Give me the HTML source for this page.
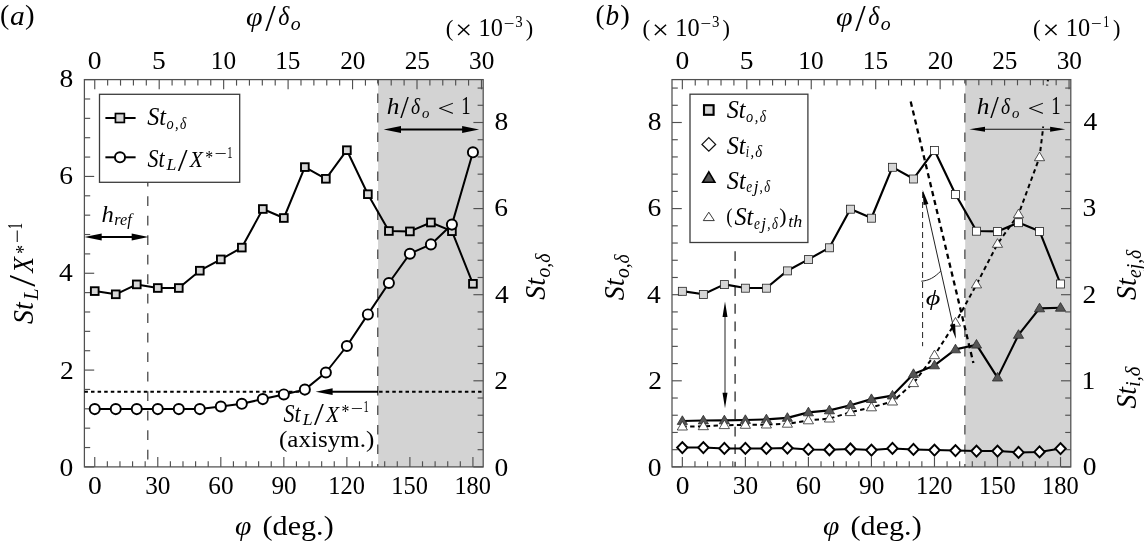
<!DOCTYPE html>
<html lang="en"><head><meta charset="utf-8"><title>Figure</title>
<style>html,body{margin:0;padding:0;background:#fff;overflow:hidden}svg{display:block}text{font-family:'Liberation Serif', 'DejaVu Serif', serif;fill:#000;stroke:#000;stroke-width:0;stroke-linejoin:round}</style></head><body>
<svg width="1144" height="542" viewBox="0 0 1144 542">
<rect width="1144" height="542" fill="#fff"/>
<rect x="378.08" y="79.60" width="105.12" height="387.30" fill="#d3d3d3"/>
<line x1="147.80" y1="182.30" x2="147.80" y2="466.90" stroke="#3a3a3a" stroke-width="1.2" stroke-dasharray="9.6 9.9" stroke-dashoffset="5.5"/>
<line x1="377.78" y1="79.60" x2="377.78" y2="466.90" stroke="#3a3a3a" stroke-width="1.2" stroke-dasharray="9.6 9.9" stroke-dashoffset="5.7"/>
<line x1="94.75" y1="466.90" x2="94.75" y2="457.10" stroke="#505050" stroke-width="1.15" />
<line x1="107.36" y1="466.90" x2="107.36" y2="461.30" stroke="#505050" stroke-width="1.15" />
<line x1="119.96" y1="466.90" x2="119.96" y2="461.30" stroke="#505050" stroke-width="1.15" />
<line x1="132.57" y1="466.90" x2="132.57" y2="461.30" stroke="#505050" stroke-width="1.15" />
<line x1="145.17" y1="466.90" x2="145.17" y2="461.30" stroke="#505050" stroke-width="1.15" />
<line x1="157.78" y1="466.90" x2="157.78" y2="457.10" stroke="#505050" stroke-width="1.15" />
<line x1="170.39" y1="466.90" x2="170.39" y2="461.30" stroke="#505050" stroke-width="1.15" />
<line x1="182.99" y1="466.90" x2="182.99" y2="461.30" stroke="#505050" stroke-width="1.15" />
<line x1="195.60" y1="466.90" x2="195.60" y2="461.30" stroke="#505050" stroke-width="1.15" />
<line x1="208.20" y1="466.90" x2="208.20" y2="461.30" stroke="#505050" stroke-width="1.15" />
<line x1="220.81" y1="466.90" x2="220.81" y2="457.10" stroke="#505050" stroke-width="1.15" />
<line x1="233.42" y1="466.90" x2="233.42" y2="461.30" stroke="#505050" stroke-width="1.15" />
<line x1="246.02" y1="466.90" x2="246.02" y2="461.30" stroke="#505050" stroke-width="1.15" />
<line x1="258.63" y1="466.90" x2="258.63" y2="461.30" stroke="#505050" stroke-width="1.15" />
<line x1="271.23" y1="466.90" x2="271.23" y2="461.30" stroke="#505050" stroke-width="1.15" />
<line x1="283.84" y1="466.90" x2="283.84" y2="457.10" stroke="#505050" stroke-width="1.15" />
<line x1="296.45" y1="466.90" x2="296.45" y2="461.30" stroke="#505050" stroke-width="1.15" />
<line x1="309.05" y1="466.90" x2="309.05" y2="461.30" stroke="#505050" stroke-width="1.15" />
<line x1="321.66" y1="466.90" x2="321.66" y2="461.30" stroke="#505050" stroke-width="1.15" />
<line x1="334.26" y1="466.90" x2="334.26" y2="461.30" stroke="#505050" stroke-width="1.15" />
<line x1="346.87" y1="466.90" x2="346.87" y2="457.10" stroke="#505050" stroke-width="1.15" />
<line x1="359.48" y1="466.90" x2="359.48" y2="461.30" stroke="#505050" stroke-width="1.15" />
<line x1="372.08" y1="466.90" x2="372.08" y2="461.30" stroke="#505050" stroke-width="1.15" />
<line x1="384.69" y1="466.90" x2="384.69" y2="461.30" stroke="#505050" stroke-width="1.15" />
<line x1="397.29" y1="466.90" x2="397.29" y2="461.30" stroke="#505050" stroke-width="1.15" />
<line x1="409.90" y1="466.90" x2="409.90" y2="457.10" stroke="#505050" stroke-width="1.15" />
<line x1="422.51" y1="466.90" x2="422.51" y2="461.30" stroke="#505050" stroke-width="1.15" />
<line x1="435.11" y1="466.90" x2="435.11" y2="461.30" stroke="#505050" stroke-width="1.15" />
<line x1="447.72" y1="466.90" x2="447.72" y2="461.30" stroke="#505050" stroke-width="1.15" />
<line x1="460.32" y1="466.90" x2="460.32" y2="461.30" stroke="#505050" stroke-width="1.15" />
<line x1="472.93" y1="466.90" x2="472.93" y2="457.10" stroke="#505050" stroke-width="1.15" />
<line x1="94.75" y1="79.60" x2="94.75" y2="89.30" stroke="#505050" stroke-width="1.15" />
<line x1="107.64" y1="79.60" x2="107.64" y2="85.60" stroke="#505050" stroke-width="1.15" />
<line x1="120.53" y1="79.60" x2="120.53" y2="85.60" stroke="#505050" stroke-width="1.15" />
<line x1="133.42" y1="79.60" x2="133.42" y2="85.60" stroke="#505050" stroke-width="1.15" />
<line x1="146.31" y1="79.60" x2="146.31" y2="85.60" stroke="#505050" stroke-width="1.15" />
<line x1="159.20" y1="79.60" x2="159.20" y2="89.30" stroke="#505050" stroke-width="1.15" />
<line x1="172.09" y1="79.60" x2="172.09" y2="85.60" stroke="#505050" stroke-width="1.15" />
<line x1="184.98" y1="79.60" x2="184.98" y2="85.60" stroke="#505050" stroke-width="1.15" />
<line x1="197.87" y1="79.60" x2="197.87" y2="85.60" stroke="#505050" stroke-width="1.15" />
<line x1="210.76" y1="79.60" x2="210.76" y2="85.60" stroke="#505050" stroke-width="1.15" />
<line x1="223.65" y1="79.60" x2="223.65" y2="89.30" stroke="#505050" stroke-width="1.15" />
<line x1="236.54" y1="79.60" x2="236.54" y2="85.60" stroke="#505050" stroke-width="1.15" />
<line x1="249.43" y1="79.60" x2="249.43" y2="85.60" stroke="#505050" stroke-width="1.15" />
<line x1="262.32" y1="79.60" x2="262.32" y2="85.60" stroke="#505050" stroke-width="1.15" />
<line x1="275.21" y1="79.60" x2="275.21" y2="85.60" stroke="#505050" stroke-width="1.15" />
<line x1="288.10" y1="79.60" x2="288.10" y2="89.30" stroke="#505050" stroke-width="1.15" />
<line x1="300.99" y1="79.60" x2="300.99" y2="85.60" stroke="#505050" stroke-width="1.15" />
<line x1="313.88" y1="79.60" x2="313.88" y2="85.60" stroke="#505050" stroke-width="1.15" />
<line x1="326.77" y1="79.60" x2="326.77" y2="85.60" stroke="#505050" stroke-width="1.15" />
<line x1="339.66" y1="79.60" x2="339.66" y2="85.60" stroke="#505050" stroke-width="1.15" />
<line x1="352.55" y1="79.60" x2="352.55" y2="89.30" stroke="#505050" stroke-width="1.15" />
<line x1="365.44" y1="79.60" x2="365.44" y2="85.60" stroke="#505050" stroke-width="1.15" />
<line x1="378.33" y1="79.60" x2="378.33" y2="85.60" stroke="#505050" stroke-width="1.15" />
<line x1="391.22" y1="79.60" x2="391.22" y2="85.60" stroke="#505050" stroke-width="1.15" />
<line x1="404.11" y1="79.60" x2="404.11" y2="85.60" stroke="#505050" stroke-width="1.15" />
<line x1="417.00" y1="79.60" x2="417.00" y2="89.30" stroke="#505050" stroke-width="1.15" />
<line x1="429.89" y1="79.60" x2="429.89" y2="85.60" stroke="#505050" stroke-width="1.15" />
<line x1="442.78" y1="79.60" x2="442.78" y2="85.60" stroke="#505050" stroke-width="1.15" />
<line x1="455.67" y1="79.60" x2="455.67" y2="85.60" stroke="#505050" stroke-width="1.15" />
<line x1="468.56" y1="79.60" x2="468.56" y2="85.60" stroke="#505050" stroke-width="1.15" />
<line x1="481.45" y1="79.60" x2="481.45" y2="89.30" stroke="#505050" stroke-width="1.15" />
<line x1="84.40" y1="466.90" x2="94.20" y2="466.90" stroke="#505050" stroke-width="1.15" />
<line x1="84.40" y1="447.54" x2="90.20" y2="447.54" stroke="#505050" stroke-width="1.15" />
<line x1="84.40" y1="428.17" x2="90.20" y2="428.17" stroke="#505050" stroke-width="1.15" />
<line x1="84.40" y1="408.81" x2="90.20" y2="408.81" stroke="#505050" stroke-width="1.15" />
<line x1="84.40" y1="389.44" x2="90.20" y2="389.44" stroke="#505050" stroke-width="1.15" />
<line x1="84.40" y1="370.08" x2="94.20" y2="370.08" stroke="#505050" stroke-width="1.15" />
<line x1="84.40" y1="350.72" x2="90.20" y2="350.72" stroke="#505050" stroke-width="1.15" />
<line x1="84.40" y1="331.35" x2="90.20" y2="331.35" stroke="#505050" stroke-width="1.15" />
<line x1="84.40" y1="311.99" x2="90.20" y2="311.99" stroke="#505050" stroke-width="1.15" />
<line x1="84.40" y1="292.62" x2="90.20" y2="292.62" stroke="#505050" stroke-width="1.15" />
<line x1="84.40" y1="273.26" x2="94.20" y2="273.26" stroke="#505050" stroke-width="1.15" />
<line x1="84.40" y1="253.90" x2="90.20" y2="253.90" stroke="#505050" stroke-width="1.15" />
<line x1="84.40" y1="234.53" x2="90.20" y2="234.53" stroke="#505050" stroke-width="1.15" />
<line x1="84.40" y1="215.17" x2="90.20" y2="215.17" stroke="#505050" stroke-width="1.15" />
<line x1="84.40" y1="195.80" x2="90.20" y2="195.80" stroke="#505050" stroke-width="1.15" />
<line x1="84.40" y1="176.44" x2="94.20" y2="176.44" stroke="#505050" stroke-width="1.15" />
<line x1="84.40" y1="157.08" x2="90.20" y2="157.08" stroke="#505050" stroke-width="1.15" />
<line x1="84.40" y1="137.71" x2="90.20" y2="137.71" stroke="#505050" stroke-width="1.15" />
<line x1="84.40" y1="118.35" x2="90.20" y2="118.35" stroke="#505050" stroke-width="1.15" />
<line x1="84.40" y1="98.98" x2="90.20" y2="98.98" stroke="#505050" stroke-width="1.15" />
<line x1="84.40" y1="79.62" x2="94.20" y2="79.62" stroke="#505050" stroke-width="1.15" />
<line x1="483.20" y1="466.90" x2="473.40" y2="466.90" stroke="#505050" stroke-width="1.15" />
<line x1="483.20" y1="449.68" x2="477.60" y2="449.68" stroke="#505050" stroke-width="1.15" />
<line x1="483.20" y1="432.46" x2="477.60" y2="432.46" stroke="#505050" stroke-width="1.15" />
<line x1="483.20" y1="415.24" x2="477.60" y2="415.24" stroke="#505050" stroke-width="1.15" />
<line x1="483.20" y1="398.02" x2="477.60" y2="398.02" stroke="#505050" stroke-width="1.15" />
<line x1="483.20" y1="380.80" x2="473.40" y2="380.80" stroke="#505050" stroke-width="1.15" />
<line x1="483.20" y1="363.58" x2="477.60" y2="363.58" stroke="#505050" stroke-width="1.15" />
<line x1="483.20" y1="346.36" x2="477.60" y2="346.36" stroke="#505050" stroke-width="1.15" />
<line x1="483.20" y1="329.14" x2="477.60" y2="329.14" stroke="#505050" stroke-width="1.15" />
<line x1="483.20" y1="311.92" x2="477.60" y2="311.92" stroke="#505050" stroke-width="1.15" />
<line x1="483.20" y1="294.70" x2="473.40" y2="294.70" stroke="#505050" stroke-width="1.15" />
<line x1="483.20" y1="277.48" x2="477.60" y2="277.48" stroke="#505050" stroke-width="1.15" />
<line x1="483.20" y1="260.26" x2="477.60" y2="260.26" stroke="#505050" stroke-width="1.15" />
<line x1="483.20" y1="243.04" x2="477.60" y2="243.04" stroke="#505050" stroke-width="1.15" />
<line x1="483.20" y1="225.82" x2="477.60" y2="225.82" stroke="#505050" stroke-width="1.15" />
<line x1="483.20" y1="208.60" x2="473.40" y2="208.60" stroke="#505050" stroke-width="1.15" />
<line x1="483.20" y1="191.38" x2="477.60" y2="191.38" stroke="#505050" stroke-width="1.15" />
<line x1="483.20" y1="174.16" x2="477.60" y2="174.16" stroke="#505050" stroke-width="1.15" />
<line x1="483.20" y1="156.94" x2="477.60" y2="156.94" stroke="#505050" stroke-width="1.15" />
<line x1="483.20" y1="139.72" x2="477.60" y2="139.72" stroke="#505050" stroke-width="1.15" />
<line x1="483.20" y1="122.50" x2="473.40" y2="122.50" stroke="#505050" stroke-width="1.15" />
<line x1="483.20" y1="105.28" x2="477.60" y2="105.28" stroke="#505050" stroke-width="1.15" />
<line x1="483.20" y1="88.06" x2="477.60" y2="88.06" stroke="#505050" stroke-width="1.15" />
<rect x="84.40" y="79.60" width="398.80" height="387.30" fill="none" stroke="#505050" stroke-width="1.25"/>
<line x1="84.40" y1="391.70" x2="300.85" y2="391.70" stroke="#000" stroke-width="2" stroke-dasharray="3.5 3.1"/>
<line x1="379.08" y1="391.70" x2="483.20" y2="391.70" stroke="#000" stroke-width="2" stroke-dasharray="3.5 3.1"/>
<line x1="378.08" y1="391.70" x2="330.00" y2="391.70" stroke="#000" stroke-width="2" />
<polygon points="315.60,391.70 332.60,388.30 332.60,395.10" fill="#000"/>
<polyline points="94.75,291.10 115.76,294.30 136.77,284.40 157.78,288.00 178.79,288.00 199.80,270.70 220.81,259.40 241.82,247.60 262.83,209.00 283.84,218.00 304.85,167.10 325.86,178.80 346.87,150.20 367.88,194.20 388.89,231.00 409.90,231.40 430.91,222.50 451.92,231.20 472.93,283.80" fill="none" stroke="#000" stroke-width="2.0" stroke-linejoin="round" />
<rect x="90.90" y="287.25" width="7.7" height="7.7" fill="#d6d6d6" stroke="#000" stroke-width="1.9"/>
<rect x="111.91" y="290.45" width="7.7" height="7.7" fill="#d6d6d6" stroke="#000" stroke-width="1.9"/>
<rect x="132.92" y="280.55" width="7.7" height="7.7" fill="#d6d6d6" stroke="#000" stroke-width="1.9"/>
<rect x="153.93" y="284.15" width="7.7" height="7.7" fill="#d6d6d6" stroke="#000" stroke-width="1.9"/>
<rect x="174.94" y="284.15" width="7.7" height="7.7" fill="#d6d6d6" stroke="#000" stroke-width="1.9"/>
<rect x="195.95" y="266.85" width="7.7" height="7.7" fill="#d6d6d6" stroke="#000" stroke-width="1.9"/>
<rect x="216.96" y="255.55" width="7.7" height="7.7" fill="#d6d6d6" stroke="#000" stroke-width="1.9"/>
<rect x="237.97" y="243.75" width="7.7" height="7.7" fill="#d6d6d6" stroke="#000" stroke-width="1.9"/>
<rect x="258.98" y="205.15" width="7.7" height="7.7" fill="#d6d6d6" stroke="#000" stroke-width="1.9"/>
<rect x="279.99" y="214.15" width="7.7" height="7.7" fill="#d6d6d6" stroke="#000" stroke-width="1.9"/>
<rect x="301.00" y="163.25" width="7.7" height="7.7" fill="#d6d6d6" stroke="#000" stroke-width="1.9"/>
<rect x="322.01" y="174.95" width="7.7" height="7.7" fill="#d6d6d6" stroke="#000" stroke-width="1.9"/>
<rect x="343.02" y="146.35" width="7.7" height="7.7" fill="#d6d6d6" stroke="#000" stroke-width="1.9"/>
<rect x="364.03" y="190.35" width="7.7" height="7.7" fill="#d6d6d6" stroke="#000" stroke-width="1.9"/>
<rect x="385.04" y="227.15" width="7.7" height="7.7" fill="#d6d6d6" stroke="#000" stroke-width="1.9"/>
<rect x="406.05" y="227.55" width="7.7" height="7.7" fill="#d6d6d6" stroke="#000" stroke-width="1.9"/>
<rect x="427.06" y="218.65" width="7.7" height="7.7" fill="#d6d6d6" stroke="#000" stroke-width="1.9"/>
<rect x="448.07" y="227.35" width="7.7" height="7.7" fill="#d6d6d6" stroke="#000" stroke-width="1.9"/>
<rect x="469.08" y="279.95" width="7.7" height="7.7" fill="#d6d6d6" stroke="#000" stroke-width="1.9"/>
<polyline points="94.75,409.10 115.76,409.10 136.77,409.10 157.78,409.10 178.79,409.10 199.80,409.10 220.81,406.50 241.82,403.80 262.83,399.10 283.84,394.40 304.85,389.60 325.86,372.50 346.87,346.00 367.88,314.40 388.89,283.00 409.90,253.70 430.91,244.40 451.92,224.60 472.93,152.30" fill="none" stroke="#000" stroke-width="2.0" stroke-linejoin="round" />
<circle cx="94.75" cy="409.10" r="5.05" fill="#fff" stroke="#000" stroke-width="1.95"/>
<circle cx="115.76" cy="409.10" r="5.05" fill="#fff" stroke="#000" stroke-width="1.95"/>
<circle cx="136.77" cy="409.10" r="5.05" fill="#fff" stroke="#000" stroke-width="1.95"/>
<circle cx="157.78" cy="409.10" r="5.05" fill="#fff" stroke="#000" stroke-width="1.95"/>
<circle cx="178.79" cy="409.10" r="5.05" fill="#fff" stroke="#000" stroke-width="1.95"/>
<circle cx="199.80" cy="409.10" r="5.05" fill="#fff" stroke="#000" stroke-width="1.95"/>
<circle cx="220.81" cy="406.50" r="5.05" fill="#fff" stroke="#000" stroke-width="1.95"/>
<circle cx="241.82" cy="403.80" r="5.05" fill="#fff" stroke="#000" stroke-width="1.95"/>
<circle cx="262.83" cy="399.10" r="5.05" fill="#fff" stroke="#000" stroke-width="1.95"/>
<circle cx="283.84" cy="394.40" r="5.05" fill="#fff" stroke="#000" stroke-width="1.95"/>
<circle cx="304.85" cy="389.60" r="5.05" fill="#fff" stroke="#000" stroke-width="1.95"/>
<circle cx="325.86" cy="372.50" r="5.05" fill="#fff" stroke="#000" stroke-width="1.95"/>
<circle cx="346.87" cy="346.00" r="5.05" fill="#fff" stroke="#000" stroke-width="1.95"/>
<circle cx="367.88" cy="314.40" r="5.05" fill="#fff" stroke="#000" stroke-width="1.95"/>
<circle cx="388.89" cy="283.00" r="5.05" fill="#fff" stroke="#000" stroke-width="1.95"/>
<circle cx="409.90" cy="253.70" r="5.05" fill="#fff" stroke="#000" stroke-width="1.95"/>
<circle cx="430.91" cy="244.40" r="5.05" fill="#fff" stroke="#000" stroke-width="1.95"/>
<circle cx="451.92" cy="224.60" r="5.05" fill="#fff" stroke="#000" stroke-width="1.95"/>
<circle cx="472.93" cy="152.30" r="5.05" fill="#fff" stroke="#000" stroke-width="1.95"/>
<line x1="92.40" y1="237.00" x2="139.80" y2="237.00" stroke="#000" stroke-width="2" />
<polygon points="84.40,237.00 101.70,233.40 101.70,240.60" fill="#000"/>
<polygon points="148.50,237.00 131.70,240.60 131.70,233.40" fill="#000"/>
<line x1="392.00" y1="129.40" x2="472.00" y2="129.40" stroke="#000" stroke-width="2" />
<polygon points="383.70,129.40 401.00,125.90 401.00,132.90" fill="#000"/>
<polygon points="479.10,129.40 462.10,132.90 462.10,125.90" fill="#000"/>
<text transform="translate(386.64,114.10) scale(1.069,1)" font-size="23.71" font-style="italic"  stroke-width="0.2">h</text>
<text transform="translate(400.30,118.36) scale(0.953,1)" font-size="32.24" >/</text>
<text transform="translate(411.01,114.10) scale(0.832,1)" font-size="23.52" font-style="italic"  stroke-width="0.2">δ</text>
<text transform="translate(422.00,117.85)" font-size="14.79" font-style="italic"  stroke-width="0.4">o</text>
<text transform="translate(437.61,116.19) scale(1.281,1)" font-size="23.27" >&lt;</text>
<text transform="translate(461.31,114.10) scale(0.763,1)" font-size="24.39" >1</text>
<rect x="99.5" y="94.3" width="140.2" height="88" fill="#fff" stroke="#3c3c3c" stroke-width="1.3"/>
<line x1="105.40" y1="118.00" x2="135.60" y2="118.00" stroke="#000" stroke-width="2" />
<rect x="115.45" y="113.55" width="8.9" height="8.9" fill="#d6d6d6" stroke="#000" stroke-width="1.7"/>
<line x1="105.40" y1="157.30" x2="135.60" y2="157.30" stroke="#000" stroke-width="2" />
<circle cx="120.00" cy="157.30" r="5.05" fill="#fff" stroke="#000" stroke-width="1.95"/>
<text transform="translate(147.16,125.00) scale(0.984,1)" font-size="24.56" font-style="italic"  stroke-width="0.2">St</text>
<text transform="translate(166.41,128.60) scale(0.886,1)" font-size="16.20" font-style="italic"  stroke-width="0.4">o</text>
<text transform="translate(175.07,128.60) scale(0.887,1)" font-size="16.20" font-style="italic"  stroke-width="0.4">,</text>
<text transform="translate(180.03,128.60) scale(0.832,1)" font-size="16.20" font-style="italic"  stroke-width="0.4">δ</text>
<text transform="translate(147.38,166.90) scale(0.908,1)" font-size="24.26" font-style="italic"  stroke-width="0.2">St</text>
<text transform="translate(166.55,170.20) scale(1.068,1)" font-size="16.60" font-style="italic"  stroke-width="0.4">L</text>
<text transform="translate(177.80,170.86) scale(1.102,1)" font-size="32.09" >/</text>
<text transform="translate(189.76,166.90) scale(0.919,1)" font-size="23.48" font-style="italic"  stroke-width="0.2">X</text>
<text transform="translate(205.37,163.79) scale(0.881,1)" font-size="17.84"  stroke-width="0.4">*</text>
<text transform="translate(214.53,159.30) scale(1.250,1)" font-size="17.50"  stroke-width="0.4">−</text>
<text transform="translate(227.36,157.80) scale(0.663,1)" font-size="15.91"  stroke-width="0.4">1</text>
<text transform="translate(0.09,23.65) scale(1.026,1)" font-size="27.07" >(</text>
<text transform="translate(10.01,24.52) scale(1.043,1)" font-size="28.33" font-style="italic"  stroke-width="0.2">a</text>
<text transform="translate(24.93,23.65) scale(1.066,1)" font-size="27.07" >)</text>
<text transform="translate(246.10,25.57) scale(1.062,1)" font-size="28.24" font-style="italic"  stroke-width="0.2">φ</text>
<text transform="translate(265.30,30.75) scale(0.997,1)" font-size="37.61" >/</text>
<text transform="translate(278.22,25.43) scale(0.875,1)" font-size="27.32" font-style="italic"  stroke-width="0.2">δ</text>
<text transform="translate(290.80,30.41) scale(1.067,1)" font-size="18.54" font-style="italic"  stroke-width="0.4">o</text>
<text transform="translate(445.68,35.51) scale(0.974,1)" font-size="23.59" >(</text>
<text transform="translate(455.20,39.10) scale(1.125,1)" font-size="26.67" >×</text>
<text transform="translate(478.55,35.90) scale(0.981,1)" font-size="24.85" >10</text>
<text transform="translate(503.74,29.00) scale(1.083,1)" font-size="17.50"  stroke-width="0.4">−</text>
<text transform="translate(515.30,26.87) scale(0.904,1)" font-size="16.47"  stroke-width="0.4">3</text>
<text transform="translate(525.73,35.51) scale(0.946,1)" font-size="23.59" >)</text>
<text transform="translate(87.87,68.50) scale(1.110,1)" font-size="24.80" >0</text>
<text transform="translate(152.04,68.50) scale(1.110,1)" font-size="24.80" >5</text>
<text transform="translate(210.77,68.50) scale(1.020,1)" font-size="24.80" >10</text>
<text transform="translate(275.22,68.50) scale(1.020,1)" font-size="24.80" >15</text>
<text transform="translate(340.18,68.50) scale(1.020,1)" font-size="24.80" >20</text>
<text transform="translate(404.63,68.50) scale(1.020,1)" font-size="24.80" >25</text>
<text transform="translate(469.08,68.50) scale(1.020,1)" font-size="24.80" >30</text>
<text transform="translate(88.07,494.40) scale(1.110,1)" font-size="24.80" >0</text>
<text transform="translate(145.21,494.40) scale(1.020,1)" font-size="24.80" >30</text>
<text transform="translate(208.24,494.40) scale(1.020,1)" font-size="24.80" >60</text>
<text transform="translate(271.39,494.40) scale(1.020,1)" font-size="24.80" >90</text>
<text transform="translate(328.34,494.40) scale(0.985,1)" font-size="24.80" >120</text>
<text transform="translate(391.37,494.40) scale(0.985,1)" font-size="24.80" >150</text>
<text transform="translate(454.40,494.40) scale(0.985,1)" font-size="24.80" >180</text>
<text transform="translate(59.56,475.80) scale(1.110,1)" font-size="24.80" >0</text>
<text transform="translate(60.11,378.58) scale(1.110,1)" font-size="24.80" >2</text>
<text transform="translate(59.01,281.36) scale(1.110,1)" font-size="24.80" >4</text>
<text transform="translate(59.29,184.14) scale(1.110,1)" font-size="24.80" >6</text>
<text transform="translate(59.56,86.92) scale(1.110,1)" font-size="24.80" >8</text>
<text transform="translate(494.47,475.50) scale(1.110,1)" font-size="24.80" >0</text>
<text transform="translate(494.20,389.10) scale(1.110,1)" font-size="24.80" >2</text>
<text transform="translate(495.02,302.70) scale(1.110,1)" font-size="24.80" >4</text>
<text transform="translate(494.20,216.30) scale(1.110,1)" font-size="24.80" >6</text>
<text transform="translate(494.47,129.90) scale(1.110,1)" font-size="24.80" >8</text>
<text transform="translate(235.11,535.17) scale(1.049,1)" font-size="28.24" font-style="italic"  stroke-width="0.2">φ</text>
<text transform="translate(262.59,534.60) scale(1.109,1)" font-size="27.17" >(deg.)</text>
<text transform="translate(33.40,323.88) rotate(-90) scale(0.976,1)" font-size="28.53" font-style="italic"  stroke-width="0.2">St</text>
<text transform="translate(37.80,299.88) rotate(-90) scale(0.988,1)" font-size="21.00" font-style="italic"  stroke-width="0.2">L</text>
<text transform="translate(35.44,286.70) rotate(-90) scale(1.112,1)" font-size="37.91" >/</text>
<text transform="translate(33.40,272.67) rotate(-90) scale(0.890,1)" font-size="29.00" font-style="italic"  stroke-width="0.2">X</text>
<text transform="translate(29.68,254.12) rotate(-90) scale(0.847,1)" font-size="21.35" >*</text>
<text transform="translate(24.10,243.30) rotate(-90) scale(1.190,1)" font-size="21.00" >−</text>
<text transform="translate(22.40,229.32) rotate(-90) scale(0.608,1)" font-size="21.00" >1</text>
<text transform="translate(545.30,299.78) rotate(-90) scale(0.971,1)" font-size="28.68" font-style="italic"  stroke-width="0.2">St</text>
<text transform="translate(549.90,277.60) rotate(-90) scale(0.941,1)" font-size="21.00" font-style="italic"  stroke-width="0.2">o,δ</text>
<text transform="translate(101.56,222.00) scale(1.046,1)" font-size="23.57" font-style="italic"  stroke-width="0.2">h</text>
<text transform="translate(114.25,225.20) scale(0.980,1)" font-size="16.60" font-style="italic"  stroke-width="0.4">ref</text>
<text transform="translate(283.58,421.50) scale(0.908,1)" font-size="24.26" font-style="italic"  stroke-width="0.2">St</text>
<text transform="translate(302.75,424.80) scale(1.068,1)" font-size="16.60" font-style="italic"  stroke-width="0.4">L</text>
<text transform="translate(314.00,425.46) scale(1.102,1)" font-size="32.09" >/</text>
<text transform="translate(325.96,421.50) scale(0.919,1)" font-size="23.48" font-style="italic"  stroke-width="0.2">X</text>
<text transform="translate(341.57,418.39) scale(0.881,1)" font-size="17.84"  stroke-width="0.4">*</text>
<text transform="translate(350.73,413.90) scale(1.250,1)" font-size="17.50"  stroke-width="0.4">−</text>
<text transform="translate(363.56,412.40) scale(0.663,1)" font-size="15.91"  stroke-width="0.4">1</text>
<text transform="translate(279.00,447.00) scale(1.113,1)" font-size="22.50" >(axisym.)</text>
<rect x="965.19" y="79.60" width="105.61" height="387.30" fill="#d3d3d3"/>
<line x1="735.10" y1="251.20" x2="735.10" y2="466.90" stroke="#3a3a3a" stroke-width="1.4" stroke-dasharray="9.8 7.75" stroke-dashoffset="0"/>
<line x1="964.89" y1="79.60" x2="964.89" y2="466.90" stroke="#3a3a3a" stroke-width="1.2" stroke-dasharray="9.6 9.9" stroke-dashoffset="5.7"/>
<line x1="682.35" y1="466.90" x2="682.35" y2="457.10" stroke="#505050" stroke-width="1.15" />
<line x1="694.96" y1="466.90" x2="694.96" y2="461.30" stroke="#505050" stroke-width="1.15" />
<line x1="707.56" y1="466.90" x2="707.56" y2="461.30" stroke="#505050" stroke-width="1.15" />
<line x1="720.17" y1="466.90" x2="720.17" y2="461.30" stroke="#505050" stroke-width="1.15" />
<line x1="732.77" y1="466.90" x2="732.77" y2="461.30" stroke="#505050" stroke-width="1.15" />
<line x1="745.38" y1="466.90" x2="745.38" y2="457.10" stroke="#505050" stroke-width="1.15" />
<line x1="757.99" y1="466.90" x2="757.99" y2="461.30" stroke="#505050" stroke-width="1.15" />
<line x1="770.59" y1="466.90" x2="770.59" y2="461.30" stroke="#505050" stroke-width="1.15" />
<line x1="783.20" y1="466.90" x2="783.20" y2="461.30" stroke="#505050" stroke-width="1.15" />
<line x1="795.80" y1="466.90" x2="795.80" y2="461.30" stroke="#505050" stroke-width="1.15" />
<line x1="808.41" y1="466.90" x2="808.41" y2="457.10" stroke="#505050" stroke-width="1.15" />
<line x1="821.02" y1="466.90" x2="821.02" y2="461.30" stroke="#505050" stroke-width="1.15" />
<line x1="833.62" y1="466.90" x2="833.62" y2="461.30" stroke="#505050" stroke-width="1.15" />
<line x1="846.23" y1="466.90" x2="846.23" y2="461.30" stroke="#505050" stroke-width="1.15" />
<line x1="858.83" y1="466.90" x2="858.83" y2="461.30" stroke="#505050" stroke-width="1.15" />
<line x1="871.44" y1="466.90" x2="871.44" y2="457.10" stroke="#505050" stroke-width="1.15" />
<line x1="884.05" y1="466.90" x2="884.05" y2="461.30" stroke="#505050" stroke-width="1.15" />
<line x1="896.65" y1="466.90" x2="896.65" y2="461.30" stroke="#505050" stroke-width="1.15" />
<line x1="909.26" y1="466.90" x2="909.26" y2="461.30" stroke="#505050" stroke-width="1.15" />
<line x1="921.86" y1="466.90" x2="921.86" y2="461.30" stroke="#505050" stroke-width="1.15" />
<line x1="934.47" y1="466.90" x2="934.47" y2="457.10" stroke="#505050" stroke-width="1.15" />
<line x1="947.08" y1="466.90" x2="947.08" y2="461.30" stroke="#505050" stroke-width="1.15" />
<line x1="959.68" y1="466.90" x2="959.68" y2="461.30" stroke="#505050" stroke-width="1.15" />
<line x1="972.29" y1="466.90" x2="972.29" y2="461.30" stroke="#505050" stroke-width="1.15" />
<line x1="984.89" y1="466.90" x2="984.89" y2="461.30" stroke="#505050" stroke-width="1.15" />
<line x1="997.50" y1="466.90" x2="997.50" y2="457.10" stroke="#505050" stroke-width="1.15" />
<line x1="1010.11" y1="466.90" x2="1010.11" y2="461.30" stroke="#505050" stroke-width="1.15" />
<line x1="1022.71" y1="466.90" x2="1022.71" y2="461.30" stroke="#505050" stroke-width="1.15" />
<line x1="1035.32" y1="466.90" x2="1035.32" y2="461.30" stroke="#505050" stroke-width="1.15" />
<line x1="1047.92" y1="466.90" x2="1047.92" y2="461.30" stroke="#505050" stroke-width="1.15" />
<line x1="1060.53" y1="466.90" x2="1060.53" y2="457.10" stroke="#505050" stroke-width="1.15" />
<line x1="682.35" y1="79.60" x2="682.35" y2="89.30" stroke="#505050" stroke-width="1.15" />
<line x1="695.24" y1="79.60" x2="695.24" y2="85.60" stroke="#505050" stroke-width="1.15" />
<line x1="708.13" y1="79.60" x2="708.13" y2="85.60" stroke="#505050" stroke-width="1.15" />
<line x1="721.02" y1="79.60" x2="721.02" y2="85.60" stroke="#505050" stroke-width="1.15" />
<line x1="733.91" y1="79.60" x2="733.91" y2="85.60" stroke="#505050" stroke-width="1.15" />
<line x1="746.80" y1="79.60" x2="746.80" y2="89.30" stroke="#505050" stroke-width="1.15" />
<line x1="759.69" y1="79.60" x2="759.69" y2="85.60" stroke="#505050" stroke-width="1.15" />
<line x1="772.58" y1="79.60" x2="772.58" y2="85.60" stroke="#505050" stroke-width="1.15" />
<line x1="785.47" y1="79.60" x2="785.47" y2="85.60" stroke="#505050" stroke-width="1.15" />
<line x1="798.36" y1="79.60" x2="798.36" y2="85.60" stroke="#505050" stroke-width="1.15" />
<line x1="811.25" y1="79.60" x2="811.25" y2="89.30" stroke="#505050" stroke-width="1.15" />
<line x1="824.14" y1="79.60" x2="824.14" y2="85.60" stroke="#505050" stroke-width="1.15" />
<line x1="837.03" y1="79.60" x2="837.03" y2="85.60" stroke="#505050" stroke-width="1.15" />
<line x1="849.92" y1="79.60" x2="849.92" y2="85.60" stroke="#505050" stroke-width="1.15" />
<line x1="862.81" y1="79.60" x2="862.81" y2="85.60" stroke="#505050" stroke-width="1.15" />
<line x1="875.70" y1="79.60" x2="875.70" y2="89.30" stroke="#505050" stroke-width="1.15" />
<line x1="888.59" y1="79.60" x2="888.59" y2="85.60" stroke="#505050" stroke-width="1.15" />
<line x1="901.48" y1="79.60" x2="901.48" y2="85.60" stroke="#505050" stroke-width="1.15" />
<line x1="914.37" y1="79.60" x2="914.37" y2="85.60" stroke="#505050" stroke-width="1.15" />
<line x1="927.26" y1="79.60" x2="927.26" y2="85.60" stroke="#505050" stroke-width="1.15" />
<line x1="940.15" y1="79.60" x2="940.15" y2="89.30" stroke="#505050" stroke-width="1.15" />
<line x1="953.04" y1="79.60" x2="953.04" y2="85.60" stroke="#505050" stroke-width="1.15" />
<line x1="965.93" y1="79.60" x2="965.93" y2="85.60" stroke="#505050" stroke-width="1.15" />
<line x1="978.82" y1="79.60" x2="978.82" y2="85.60" stroke="#505050" stroke-width="1.15" />
<line x1="991.71" y1="79.60" x2="991.71" y2="85.60" stroke="#505050" stroke-width="1.15" />
<line x1="1004.60" y1="79.60" x2="1004.60" y2="89.30" stroke="#505050" stroke-width="1.15" />
<line x1="1017.49" y1="79.60" x2="1017.49" y2="85.60" stroke="#505050" stroke-width="1.15" />
<line x1="1030.38" y1="79.60" x2="1030.38" y2="85.60" stroke="#505050" stroke-width="1.15" />
<line x1="1043.27" y1="79.60" x2="1043.27" y2="85.60" stroke="#505050" stroke-width="1.15" />
<line x1="1056.16" y1="79.60" x2="1056.16" y2="85.60" stroke="#505050" stroke-width="1.15" />
<line x1="1069.05" y1="79.60" x2="1069.05" y2="89.30" stroke="#505050" stroke-width="1.15" />
<line x1="672.00" y1="466.90" x2="681.80" y2="466.90" stroke="#505050" stroke-width="1.15" />
<line x1="672.00" y1="449.68" x2="677.80" y2="449.68" stroke="#505050" stroke-width="1.15" />
<line x1="672.00" y1="432.46" x2="677.80" y2="432.46" stroke="#505050" stroke-width="1.15" />
<line x1="672.00" y1="415.24" x2="677.80" y2="415.24" stroke="#505050" stroke-width="1.15" />
<line x1="672.00" y1="398.02" x2="677.80" y2="398.02" stroke="#505050" stroke-width="1.15" />
<line x1="672.00" y1="380.80" x2="681.80" y2="380.80" stroke="#505050" stroke-width="1.15" />
<line x1="672.00" y1="363.58" x2="677.80" y2="363.58" stroke="#505050" stroke-width="1.15" />
<line x1="672.00" y1="346.36" x2="677.80" y2="346.36" stroke="#505050" stroke-width="1.15" />
<line x1="672.00" y1="329.14" x2="677.80" y2="329.14" stroke="#505050" stroke-width="1.15" />
<line x1="672.00" y1="311.92" x2="677.80" y2="311.92" stroke="#505050" stroke-width="1.15" />
<line x1="672.00" y1="294.70" x2="681.80" y2="294.70" stroke="#505050" stroke-width="1.15" />
<line x1="672.00" y1="277.48" x2="677.80" y2="277.48" stroke="#505050" stroke-width="1.15" />
<line x1="672.00" y1="260.26" x2="677.80" y2="260.26" stroke="#505050" stroke-width="1.15" />
<line x1="672.00" y1="243.04" x2="677.80" y2="243.04" stroke="#505050" stroke-width="1.15" />
<line x1="672.00" y1="225.82" x2="677.80" y2="225.82" stroke="#505050" stroke-width="1.15" />
<line x1="672.00" y1="208.60" x2="681.80" y2="208.60" stroke="#505050" stroke-width="1.15" />
<line x1="672.00" y1="191.38" x2="677.80" y2="191.38" stroke="#505050" stroke-width="1.15" />
<line x1="672.00" y1="174.16" x2="677.80" y2="174.16" stroke="#505050" stroke-width="1.15" />
<line x1="672.00" y1="156.94" x2="677.80" y2="156.94" stroke="#505050" stroke-width="1.15" />
<line x1="672.00" y1="139.72" x2="677.80" y2="139.72" stroke="#505050" stroke-width="1.15" />
<line x1="672.00" y1="122.50" x2="681.80" y2="122.50" stroke="#505050" stroke-width="1.15" />
<line x1="672.00" y1="105.28" x2="677.80" y2="105.28" stroke="#505050" stroke-width="1.15" />
<line x1="672.00" y1="88.06" x2="677.80" y2="88.06" stroke="#505050" stroke-width="1.15" />
<line x1="1070.80" y1="466.90" x2="1061.00" y2="466.90" stroke="#505050" stroke-width="1.15" />
<line x1="1070.80" y1="449.68" x2="1065.20" y2="449.68" stroke="#505050" stroke-width="1.15" />
<line x1="1070.80" y1="432.46" x2="1065.20" y2="432.46" stroke="#505050" stroke-width="1.15" />
<line x1="1070.80" y1="415.24" x2="1065.20" y2="415.24" stroke="#505050" stroke-width="1.15" />
<line x1="1070.80" y1="398.02" x2="1065.20" y2="398.02" stroke="#505050" stroke-width="1.15" />
<line x1="1070.80" y1="380.80" x2="1061.00" y2="380.80" stroke="#505050" stroke-width="1.15" />
<line x1="1070.80" y1="363.58" x2="1065.20" y2="363.58" stroke="#505050" stroke-width="1.15" />
<line x1="1070.80" y1="346.36" x2="1065.20" y2="346.36" stroke="#505050" stroke-width="1.15" />
<line x1="1070.80" y1="329.14" x2="1065.20" y2="329.14" stroke="#505050" stroke-width="1.15" />
<line x1="1070.80" y1="311.92" x2="1065.20" y2="311.92" stroke="#505050" stroke-width="1.15" />
<line x1="1070.80" y1="294.70" x2="1061.00" y2="294.70" stroke="#505050" stroke-width="1.15" />
<line x1="1070.80" y1="277.48" x2="1065.20" y2="277.48" stroke="#505050" stroke-width="1.15" />
<line x1="1070.80" y1="260.26" x2="1065.20" y2="260.26" stroke="#505050" stroke-width="1.15" />
<line x1="1070.80" y1="243.04" x2="1065.20" y2="243.04" stroke="#505050" stroke-width="1.15" />
<line x1="1070.80" y1="225.82" x2="1065.20" y2="225.82" stroke="#505050" stroke-width="1.15" />
<line x1="1070.80" y1="208.60" x2="1061.00" y2="208.60" stroke="#505050" stroke-width="1.15" />
<line x1="1070.80" y1="191.38" x2="1065.20" y2="191.38" stroke="#505050" stroke-width="1.15" />
<line x1="1070.80" y1="174.16" x2="1065.20" y2="174.16" stroke="#505050" stroke-width="1.15" />
<line x1="1070.80" y1="156.94" x2="1065.20" y2="156.94" stroke="#505050" stroke-width="1.15" />
<line x1="1070.80" y1="139.72" x2="1065.20" y2="139.72" stroke="#505050" stroke-width="1.15" />
<line x1="1070.80" y1="122.50" x2="1061.00" y2="122.50" stroke="#505050" stroke-width="1.15" />
<line x1="1070.80" y1="105.28" x2="1065.20" y2="105.28" stroke="#505050" stroke-width="1.15" />
<line x1="1070.80" y1="88.06" x2="1065.20" y2="88.06" stroke="#505050" stroke-width="1.15" />
<rect x="672.00" y="79.60" width="398.80" height="387.30" fill="none" stroke="#505050" stroke-width="1.25"/>
<polyline points="682.35,426.60 703.36,426.30 724.37,425.20 745.38,424.90 766.39,424.60 787.40,423.80 808.41,420.40 829.42,418.60 850.43,412.20 871.44,407.40 892.45,401.60 913.46,383.20 934.47,355.30 955.48,322.70 976.49,284.50 997.50,243.90 1018.51,214.30 1039.52,157.30 1042.50,133.00 1045.00,105.00 1047.90,80.00" fill="none" stroke="#000" stroke-width="2.0" stroke-linejoin="round" stroke-dasharray="4.4 3.4"/>
<line x1="910.70" y1="101.60" x2="973.40" y2="363.10" stroke="#000" stroke-width="2.3" stroke-dasharray="5.2 4"/>
<line x1="922.60" y1="192.00" x2="922.60" y2="346.20" stroke="#222" stroke-width="1" stroke-dasharray="6 4"/>
<path d="M921.3 281.2 C929 280.6 934.5 277.5 941 270.8" fill="none" stroke="#222" stroke-width="1"/>
<text transform="translate(925.74,304.81) scale(1.286,1)" font-size="21.87" font-style="italic"  stroke-width="0.2">ϕ</text>
<line x1="725.00" y1="308.00" x2="725.00" y2="402.00" stroke="#222" stroke-width="1" />
<polygon points="725.00,301.60 727.50,317.10 722.50,317.10" fill="#000"/>
<polygon points="725.00,408.20 722.50,392.70 727.50,392.70" fill="#000"/>
<polyline points="682.35,291.10 703.36,294.30 724.37,284.40 745.38,288.00 766.39,288.00 787.40,270.70 808.41,259.40 829.42,247.60 850.43,209.00 871.44,218.00 892.45,167.10 913.46,178.80 934.47,150.20 955.48,194.20 976.49,231.00 997.50,231.40 1018.51,222.50 1039.52,231.20 1060.53,283.80" fill="none" stroke="#000" stroke-width="2.15" stroke-linejoin="round" />
<rect x="678.35" y="287.30" width="8.0" height="8.0" fill="#d6d6d6" stroke="#222" stroke-width="0.8"/>
<rect x="699.36" y="290.50" width="8.0" height="8.0" fill="#d6d6d6" stroke="#222" stroke-width="0.8"/>
<rect x="720.37" y="280.60" width="8.0" height="8.0" fill="#d6d6d6" stroke="#222" stroke-width="0.8"/>
<rect x="741.38" y="284.20" width="8.0" height="8.0" fill="#d6d6d6" stroke="#222" stroke-width="0.8"/>
<rect x="762.39" y="284.20" width="8.0" height="8.0" fill="#d6d6d6" stroke="#222" stroke-width="0.8"/>
<rect x="783.40" y="266.90" width="8.0" height="8.0" fill="#d6d6d6" stroke="#222" stroke-width="0.8"/>
<rect x="804.41" y="255.60" width="8.0" height="8.0" fill="#d6d6d6" stroke="#222" stroke-width="0.8"/>
<rect x="825.42" y="243.80" width="8.0" height="8.0" fill="#d6d6d6" stroke="#222" stroke-width="0.8"/>
<rect x="846.43" y="205.20" width="8.0" height="8.0" fill="#d6d6d6" stroke="#222" stroke-width="0.8"/>
<rect x="867.44" y="214.20" width="8.0" height="8.0" fill="#d6d6d6" stroke="#222" stroke-width="0.8"/>
<rect x="888.45" y="163.30" width="8.0" height="8.0" fill="#d6d6d6" stroke="#222" stroke-width="0.8"/>
<rect x="909.46" y="175.00" width="8.0" height="8.0" fill="#d6d6d6" stroke="#222" stroke-width="0.8"/>
<rect x="930.47" y="146.40" width="8.0" height="8.0" fill="#fff" stroke="#222" stroke-width="0.8"/>
<rect x="951.48" y="190.40" width="8.0" height="8.0" fill="#fff" stroke="#222" stroke-width="0.8"/>
<rect x="972.49" y="227.20" width="8.0" height="8.0" fill="#fff" stroke="#222" stroke-width="0.8"/>
<rect x="993.50" y="227.60" width="8.0" height="8.0" fill="#fff" stroke="#222" stroke-width="0.8"/>
<rect x="1014.51" y="218.70" width="8.0" height="8.0" fill="#fff" stroke="#222" stroke-width="0.8"/>
<rect x="1035.52" y="227.40" width="8.0" height="8.0" fill="#fff" stroke="#222" stroke-width="0.8"/>
<rect x="1056.53" y="280.00" width="8.0" height="8.0" fill="#fff" stroke="#222" stroke-width="0.8"/>
<polyline points="682.35,421.00 703.36,420.50 724.37,420.40 745.38,420.00 766.39,419.40 787.40,417.90 808.41,412.40 829.42,410.40 850.43,405.20 871.44,399.10 892.45,395.60 913.46,374.00 934.47,365.40 955.48,349.40 976.49,344.70 997.50,377.60 1018.51,334.90 1039.52,308.40 1060.53,307.80" fill="none" stroke="#000" stroke-width="2.15" stroke-linejoin="round" />
<polygon points="682.35,415.80 677.25,424.40 687.45,424.40" fill="#555" stroke="#2a2a2a" stroke-width="0.8" stroke-linejoin="miter"/>
<polygon points="703.36,415.30 698.26,423.90 708.46,423.90" fill="#555" stroke="#2a2a2a" stroke-width="0.8" stroke-linejoin="miter"/>
<polygon points="724.37,415.20 719.27,423.80 729.47,423.80" fill="#555" stroke="#2a2a2a" stroke-width="0.8" stroke-linejoin="miter"/>
<polygon points="745.38,414.80 740.28,423.40 750.48,423.40" fill="#555" stroke="#2a2a2a" stroke-width="0.8" stroke-linejoin="miter"/>
<polygon points="766.39,414.20 761.29,422.80 771.49,422.80" fill="#555" stroke="#2a2a2a" stroke-width="0.8" stroke-linejoin="miter"/>
<polygon points="787.40,412.70 782.30,421.30 792.50,421.30" fill="#555" stroke="#2a2a2a" stroke-width="0.8" stroke-linejoin="miter"/>
<polygon points="808.41,407.20 803.31,415.80 813.51,415.80" fill="#555" stroke="#2a2a2a" stroke-width="0.8" stroke-linejoin="miter"/>
<polygon points="829.42,405.20 824.32,413.80 834.52,413.80" fill="#555" stroke="#2a2a2a" stroke-width="0.8" stroke-linejoin="miter"/>
<polygon points="850.43,400.00 845.33,408.60 855.53,408.60" fill="#555" stroke="#2a2a2a" stroke-width="0.8" stroke-linejoin="miter"/>
<polygon points="871.44,393.90 866.34,402.50 876.54,402.50" fill="#555" stroke="#2a2a2a" stroke-width="0.8" stroke-linejoin="miter"/>
<polygon points="892.45,390.40 887.35,399.00 897.55,399.00" fill="#555" stroke="#2a2a2a" stroke-width="0.8" stroke-linejoin="miter"/>
<polygon points="913.46,368.80 908.36,377.40 918.56,377.40" fill="#555" stroke="#2a2a2a" stroke-width="0.8" stroke-linejoin="miter"/>
<polygon points="934.47,360.20 929.37,368.80 939.57,368.80" fill="#555" stroke="#2a2a2a" stroke-width="0.8" stroke-linejoin="miter"/>
<polygon points="955.48,344.20 950.38,352.80 960.58,352.80" fill="#555" stroke="#2a2a2a" stroke-width="0.8" stroke-linejoin="miter"/>
<polygon points="976.49,339.50 971.39,348.10 981.59,348.10" fill="#555" stroke="#2a2a2a" stroke-width="0.8" stroke-linejoin="miter"/>
<polygon points="997.50,372.40 992.40,381.00 1002.60,381.00" fill="#555" stroke="#2a2a2a" stroke-width="0.8" stroke-linejoin="miter"/>
<polygon points="1018.51,329.70 1013.41,338.30 1023.61,338.30" fill="#555" stroke="#2a2a2a" stroke-width="0.8" stroke-linejoin="miter"/>
<polygon points="1039.52,303.20 1034.42,311.80 1044.62,311.80" fill="#555" stroke="#2a2a2a" stroke-width="0.8" stroke-linejoin="miter"/>
<polygon points="1060.53,302.60 1055.43,311.20 1065.63,311.20" fill="#555" stroke="#2a2a2a" stroke-width="0.8" stroke-linejoin="miter"/>
<polygon points="682.35,421.40 677.25,430.00 687.45,430.00" fill="#fff" stroke="#2a2a2a" stroke-width="0.8" stroke-linejoin="miter"/>
<polygon points="703.36,421.10 698.26,429.70 708.46,429.70" fill="#fff" stroke="#2a2a2a" stroke-width="0.8" stroke-linejoin="miter"/>
<polygon points="724.37,420.00 719.27,428.60 729.47,428.60" fill="#fff" stroke="#2a2a2a" stroke-width="0.8" stroke-linejoin="miter"/>
<polygon points="745.38,419.70 740.28,428.30 750.48,428.30" fill="#fff" stroke="#2a2a2a" stroke-width="0.8" stroke-linejoin="miter"/>
<polygon points="766.39,419.40 761.29,428.00 771.49,428.00" fill="#fff" stroke="#2a2a2a" stroke-width="0.8" stroke-linejoin="miter"/>
<polygon points="787.40,418.60 782.30,427.20 792.50,427.20" fill="#fff" stroke="#2a2a2a" stroke-width="0.8" stroke-linejoin="miter"/>
<polygon points="808.41,415.20 803.31,423.80 813.51,423.80" fill="#fff" stroke="#2a2a2a" stroke-width="0.8" stroke-linejoin="miter"/>
<polygon points="829.42,413.40 824.32,422.00 834.52,422.00" fill="#fff" stroke="#2a2a2a" stroke-width="0.8" stroke-linejoin="miter"/>
<polygon points="850.43,407.00 845.33,415.60 855.53,415.60" fill="#fff" stroke="#2a2a2a" stroke-width="0.8" stroke-linejoin="miter"/>
<polygon points="871.44,402.20 866.34,410.80 876.54,410.80" fill="#fff" stroke="#2a2a2a" stroke-width="0.8" stroke-linejoin="miter"/>
<polygon points="892.45,396.40 887.35,405.00 897.55,405.00" fill="#fff" stroke="#2a2a2a" stroke-width="0.8" stroke-linejoin="miter"/>
<polygon points="913.46,378.00 908.36,386.60 918.56,386.60" fill="#fff" stroke="#2a2a2a" stroke-width="0.8" stroke-linejoin="miter"/>
<polygon points="934.47,350.10 929.37,358.70 939.57,358.70" fill="#fff" stroke="#2a2a2a" stroke-width="0.8" stroke-linejoin="miter"/>
<polygon points="955.48,317.50 950.38,326.10 960.58,326.10" fill="#fff" stroke="#2a2a2a" stroke-width="0.8" stroke-linejoin="miter"/>
<polygon points="976.49,279.30 971.39,287.90 981.59,287.90" fill="#fff" stroke="#2a2a2a" stroke-width="0.8" stroke-linejoin="miter"/>
<polygon points="997.50,238.70 992.40,247.30 1002.60,247.30" fill="#fff" stroke="#2a2a2a" stroke-width="0.8" stroke-linejoin="miter"/>
<polygon points="1018.51,209.10 1013.41,217.70 1023.61,217.70" fill="#fff" stroke="#2a2a2a" stroke-width="0.8" stroke-linejoin="miter"/>
<polygon points="1039.52,152.10 1034.42,160.70 1044.62,160.70" fill="#fff" stroke="#2a2a2a" stroke-width="0.8" stroke-linejoin="miter"/>
<line x1="924.50" y1="198.00" x2="954.50" y2="332.00" stroke="#222" stroke-width="1" />
<polygon points="922.70,189.90 928.40,204.00 923.52,205.08" fill="#000"/>
<polygon points="955.90,338.90 950.20,324.80 955.08,323.72" fill="#000"/>
<polyline points="682.35,447.60 703.36,447.60 724.37,448.40 745.38,448.40 766.39,448.40 787.40,448.10 808.41,449.40 829.42,449.80 850.43,449.00 871.44,450.10 892.45,448.40 913.46,449.40 934.47,450.10 955.48,450.60 976.49,451.10 997.50,451.10 1018.51,452.40 1039.52,451.90 1060.53,448.60" fill="none" stroke="#000" stroke-width="2.0" stroke-linejoin="round" />
<polygon points="682.35,442.10 687.55,447.60 682.35,453.10 677.15,447.60" fill="#fff" stroke="#000" stroke-width="2.0"/>
<polygon points="703.36,442.10 708.56,447.60 703.36,453.10 698.16,447.60" fill="#fff" stroke="#000" stroke-width="2.0"/>
<polygon points="724.37,442.90 729.57,448.40 724.37,453.90 719.17,448.40" fill="#fff" stroke="#000" stroke-width="2.0"/>
<polygon points="745.38,442.90 750.58,448.40 745.38,453.90 740.18,448.40" fill="#fff" stroke="#000" stroke-width="2.0"/>
<polygon points="766.39,442.90 771.59,448.40 766.39,453.90 761.19,448.40" fill="#fff" stroke="#000" stroke-width="2.0"/>
<polygon points="787.40,442.60 792.60,448.10 787.40,453.60 782.20,448.10" fill="#fff" stroke="#000" stroke-width="2.0"/>
<polygon points="808.41,443.90 813.61,449.40 808.41,454.90 803.21,449.40" fill="#fff" stroke="#000" stroke-width="2.0"/>
<polygon points="829.42,444.30 834.62,449.80 829.42,455.30 824.22,449.80" fill="#fff" stroke="#000" stroke-width="2.0"/>
<polygon points="850.43,443.50 855.63,449.00 850.43,454.50 845.23,449.00" fill="#fff" stroke="#000" stroke-width="2.0"/>
<polygon points="871.44,444.60 876.64,450.10 871.44,455.60 866.24,450.10" fill="#fff" stroke="#000" stroke-width="2.0"/>
<polygon points="892.45,442.90 897.65,448.40 892.45,453.90 887.25,448.40" fill="#fff" stroke="#000" stroke-width="2.0"/>
<polygon points="913.46,443.90 918.66,449.40 913.46,454.90 908.26,449.40" fill="#fff" stroke="#000" stroke-width="2.0"/>
<polygon points="934.47,444.60 939.67,450.10 934.47,455.60 929.27,450.10" fill="#fff" stroke="#000" stroke-width="2.0"/>
<polygon points="955.48,445.10 960.68,450.60 955.48,456.10 950.28,450.60" fill="#fff" stroke="#000" stroke-width="2.0"/>
<polygon points="976.49,445.60 981.69,451.10 976.49,456.60 971.29,451.10" fill="#fff" stroke="#000" stroke-width="2.0"/>
<polygon points="997.50,445.60 1002.70,451.10 997.50,456.60 992.30,451.10" fill="#fff" stroke="#000" stroke-width="2.0"/>
<polygon points="1018.51,446.90 1023.71,452.40 1018.51,457.90 1013.31,452.40" fill="#fff" stroke="#000" stroke-width="2.0"/>
<polygon points="1039.52,446.40 1044.72,451.90 1039.52,457.40 1034.32,451.90" fill="#fff" stroke="#000" stroke-width="2.0"/>
<polygon points="1060.53,443.10 1065.73,448.60 1060.53,454.10 1055.33,448.60" fill="#fff" stroke="#000" stroke-width="2.0"/>
<rect x="974" y="85.5" width="90" height="41" fill="#d3d3d3"/>
<line x1="975.00" y1="129.20" x2="1060.00" y2="129.20" stroke="#111" stroke-width="1.1" />
<polygon points="969.40,129.20 985.00,126.70 985.00,131.70" fill="#000"/>
<polygon points="1065.30,129.20 1050.10,131.70 1050.10,126.70" fill="#000"/>
<text transform="translate(976.64,114.10) scale(1.069,1)" font-size="23.71" font-style="italic"  stroke-width="0.2">h</text>
<text transform="translate(990.30,118.36) scale(0.953,1)" font-size="32.24" >/</text>
<text transform="translate(1001.01,114.10) scale(0.832,1)" font-size="23.52" font-style="italic"  stroke-width="0.2">δ</text>
<text transform="translate(1012.00,117.85)" font-size="14.79" font-style="italic"  stroke-width="0.4">o</text>
<text transform="translate(1027.61,116.19) scale(1.281,1)" font-size="23.27" >&lt;</text>
<text transform="translate(1051.31,114.10) scale(0.763,1)" font-size="24.39" >1</text>
<rect x="690" y="94.2" width="117.9" height="148.3" fill="#fff" stroke="#3c3c3c" stroke-width="1.3"/>
<rect x="704.00" y="105.20" width="9.6" height="9.6" fill="#d6d6d6" stroke="#000" stroke-width="2.1"/>
<polygon points="708.80,137.60 715.60,144.40 708.80,151.20 702.00,144.40" fill="#fff" stroke="#111" stroke-width="1.3"/>
<polygon points="708.80,171.9 702.70,182.3 714.90,182.3" fill="#555" stroke="#000" stroke-width="1.6"/>
<polygon points="708.80,212.2 703.30,220.6 714.30,220.6" fill="#fff" stroke="#222" stroke-width="0.9"/>
<text transform="translate(726.76,118.30) scale(0.984,1)" font-size="24.56" font-style="italic"  stroke-width="0.2">St</text>
<text transform="translate(746.01,121.90) scale(0.886,1)" font-size="16.20" font-style="italic"  stroke-width="0.4">o</text>
<text transform="translate(754.67,121.90) scale(0.887,1)" font-size="16.20" font-style="italic"  stroke-width="0.4">,</text>
<text transform="translate(759.63,121.90) scale(0.832,1)" font-size="16.20" font-style="italic"  stroke-width="0.4">δ</text>
<text transform="translate(726.76,153.60) scale(0.984,1)" font-size="24.56" font-style="italic"  stroke-width="0.2">St</text>
<text transform="translate(745.80,157.20) scale(0.741,1)" font-size="16.20" font-style="italic"  stroke-width="0.4">i</text>
<text transform="translate(750.57,157.20) scale(0.887,1)" font-size="16.20" font-style="italic"  stroke-width="0.4">,</text>
<text transform="translate(755.20,157.20) scale(0.913,1)" font-size="16.20" font-style="italic"  stroke-width="0.4">δ</text>
<text transform="translate(726.86,188.80) scale(0.984,1)" font-size="24.56" font-style="italic"  stroke-width="0.2">St</text>
<text transform="translate(746.30,192.40) scale(0.818,1)" font-size="16.20" font-style="italic"  stroke-width="0.4">e</text>
<text transform="translate(753.70,192.40) scale(1.068,1)" font-size="16.20" font-style="italic"  stroke-width="0.4">j</text>
<text transform="translate(759.61,192.40) scale(0.810,1)" font-size="16.20" font-style="italic"  stroke-width="0.4">,</text>
<text transform="translate(764.35,192.40) scale(0.778,1)" font-size="16.20" font-style="italic"  stroke-width="0.4">δ</text>
<text transform="translate(726.34,222.58) scale(0.900,1)" font-size="20.98" >(</text>
<text transform="translate(734.46,225.30) scale(0.984,1)" font-size="24.56" font-style="italic"  stroke-width="0.2">St</text>
<text transform="translate(753.90,228.90) scale(0.818,1)" font-size="16.20" font-style="italic"  stroke-width="0.4">e</text>
<text transform="translate(761.30,228.90) scale(1.068,1)" font-size="16.20" font-style="italic"  stroke-width="0.4">j</text>
<text transform="translate(767.21,228.90) scale(0.810,1)" font-size="16.20" font-style="italic"  stroke-width="0.4">,</text>
<text transform="translate(771.95,228.90) scale(0.778,1)" font-size="16.20" font-style="italic"  stroke-width="0.4">δ</text>
<text transform="translate(779.34,222.58) scale(1.045,1)" font-size="20.98" >)</text>
<text transform="translate(788.28,227.40) scale(1.088,1)" font-size="16.60" font-style="italic"  stroke-width="0.4">th</text>
<text transform="translate(595.52,23.92) scale(0.995,1)" font-size="27.17" >(</text>
<text transform="translate(605.48,24.52) scale(0.959,1)" font-size="28.43" font-style="italic"  stroke-width="0.2">b</text>
<text transform="translate(620.23,23.92) scale(1.062,1)" font-size="27.17" >)</text>
<text transform="translate(836.10,25.57) scale(1.063,1)" font-size="28.24" font-style="italic"  stroke-width="0.2">φ</text>
<text transform="translate(855.30,30.75) scale(0.997,1)" font-size="37.61" >/</text>
<text transform="translate(868.22,25.43) scale(0.875,1)" font-size="27.32" font-style="italic"  stroke-width="0.2">δ</text>
<text transform="translate(880.80,30.41) scale(1.067,1)" font-size="18.54" font-style="italic"  stroke-width="0.4">o</text>
<text transform="translate(642.48,35.51) scale(0.974,1)" font-size="23.59" >(</text>
<text transform="translate(652.00,39.10) scale(1.125,1)" font-size="26.67" >×</text>
<text transform="translate(675.35,35.90) scale(0.981,1)" font-size="24.85" >10</text>
<text transform="translate(700.54,29.00) scale(1.083,1)" font-size="17.50"  stroke-width="0.4">−</text>
<text transform="translate(712.10,26.87) scale(0.904,1)" font-size="16.47"  stroke-width="0.4">3</text>
<text transform="translate(722.53,35.51) scale(0.946,1)" font-size="23.59" >)</text>
<text transform="translate(1032.98,35.51) scale(0.974,1)" font-size="23.59" >(</text>
<text transform="translate(1042.50,39.10) scale(1.125,1)" font-size="26.67" >×</text>
<text transform="translate(1065.85,35.90) scale(0.981,1)" font-size="24.85" >10</text>
<text transform="translate(1091.04,29.00) scale(1.083,1)" font-size="17.50"  stroke-width="0.4">−</text>
<text transform="translate(1103.22,27.00) scale(0.733,1)" font-size="16.67"  stroke-width="0.4">1</text>
<text transform="translate(1113.03,35.51) scale(0.946,1)" font-size="23.59" >)</text>
<text transform="translate(675.47,68.50) scale(1.110,1)" font-size="24.80" >0</text>
<text transform="translate(739.64,68.50) scale(1.110,1)" font-size="24.80" >5</text>
<text transform="translate(798.37,68.50) scale(1.020,1)" font-size="24.80" >10</text>
<text transform="translate(862.82,68.50) scale(1.020,1)" font-size="24.80" >15</text>
<text transform="translate(927.78,68.50) scale(1.020,1)" font-size="24.80" >20</text>
<text transform="translate(992.23,68.50) scale(1.020,1)" font-size="24.80" >25</text>
<text transform="translate(1056.68,68.50) scale(1.020,1)" font-size="24.80" >30</text>
<text transform="translate(675.67,494.40) scale(1.110,1)" font-size="24.80" >0</text>
<text transform="translate(732.81,494.40) scale(1.020,1)" font-size="24.80" >30</text>
<text transform="translate(795.84,494.40) scale(1.020,1)" font-size="24.80" >60</text>
<text transform="translate(858.99,494.40) scale(1.020,1)" font-size="24.80" >90</text>
<text transform="translate(915.94,494.40) scale(0.985,1)" font-size="24.80" >120</text>
<text transform="translate(978.97,494.40) scale(0.985,1)" font-size="24.80" >150</text>
<text transform="translate(1042.00,494.40) scale(0.985,1)" font-size="24.80" >180</text>
<text transform="translate(647.66,475.50) scale(1.110,1)" font-size="24.80" >0</text>
<text transform="translate(648.21,389.10) scale(1.110,1)" font-size="24.80" >2</text>
<text transform="translate(647.11,302.70) scale(1.110,1)" font-size="24.80" >4</text>
<text transform="translate(647.39,216.30) scale(1.110,1)" font-size="24.80" >6</text>
<text transform="translate(647.66,129.90) scale(1.110,1)" font-size="24.80" >8</text>
<text transform="translate(1082.87,474.90) scale(1.110,1)" font-size="24.80" >0</text>
<text transform="translate(1081.50,388.75) scale(1.110,1)" font-size="24.80" >1</text>
<text transform="translate(1082.60,302.60) scale(1.110,1)" font-size="24.80" >2</text>
<text transform="translate(1082.60,216.45) scale(1.110,1)" font-size="24.80" >3</text>
<text transform="translate(1083.42,130.30) scale(1.110,1)" font-size="24.80" >4</text>
<text transform="translate(823.11,535.17) scale(1.049,1)" font-size="28.24" font-style="italic"  stroke-width="0.2">φ</text>
<text transform="translate(850.59,534.60) scale(1.109,1)" font-size="27.17" >(deg.)</text>
<text transform="translate(624.00,300.28) rotate(-90) scale(0.971,1)" font-size="28.68" font-style="italic"  stroke-width="0.2">St</text>
<text transform="translate(628.60,278.09) rotate(-90) scale(0.933,1)" font-size="21.00" font-style="italic"  stroke-width="0.2">o,δ</text>
<text transform="translate(1136.00,299.98) rotate(-90) scale(0.971,1)" font-size="28.68" font-style="italic"  stroke-width="0.2">St</text>
<text transform="translate(1140.60,277.99) rotate(-90) scale(0.935,1)" font-size="21.00" font-style="italic"  stroke-width="0.2">ej,δ</text>
<text transform="translate(1135.60,408.58) rotate(-90) scale(0.971,1)" font-size="28.68" font-style="italic"  stroke-width="0.2">St</text>
<text transform="translate(1140.20,387.03) rotate(-90) scale(0.984,1)" font-size="21.00" font-style="italic"  stroke-width="0.2">i,δ</text>
</svg></body></html>
